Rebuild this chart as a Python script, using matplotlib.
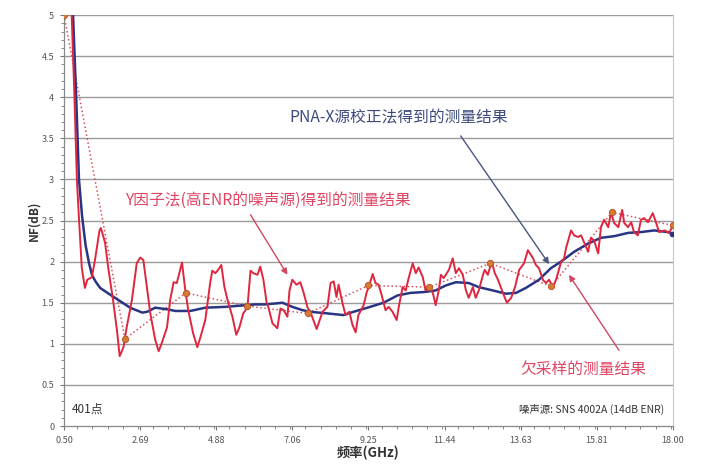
import numpy as np
import matplotlib
matplotlib.use("Agg")
import matplotlib.pyplot as plt
from matplotlib.ticker import MultipleLocator

plt.rcParams['font.family'] = ['Noto Sans CJK SC', 'DejaVu Sans']

# ---- data ----
# Y-factor result (high-ENR source), red
freq_red = [0.72, 0.80, 0.87, 0.92, 1.01, 1.10, 1.17, 1.30, 1.39, 1.52, 1.56, 1.68, 1.77, 1.91,
            2.02, 2.10, 2.21, 2.30, 2.45, 2.59, 2.69, 2.78, 2.88, 2.98, 3.12, 3.22, 3.31, 3.46,
            3.55, 3.65, 3.74, 3.82, 3.89, 3.98, 4.07, 4.21, 4.33, 4.42, 4.56, 4.70, 4.76, 4.85,
            4.93, 5.02, 5.11, 5.22, 5.34, 5.45, 5.54, 5.65, 5.77, 5.86, 5.94, 6.06, 6.14, 6.23,
            6.32, 6.37, 6.49, 6.63, 6.72, 6.81, 6.92, 6.98, 7.06, 7.18, 7.29, 7.38, 7.50, 7.58,
            7.76, 7.93, 8.07, 8.16, 8.25, 8.33, 8.39, 8.50, 8.59, 8.70, 8.79, 8.88, 8.96, 9.11,
            9.20, 9.25, 9.37, 9.45, 9.54, 9.63, 9.74, 9.83, 9.94, 10.06, 10.12, 10.23, 10.32,
            10.41, 10.52, 10.61, 10.69, 10.81, 10.89, 10.98, 11.10, 11.18, 11.27, 11.33, 11.41,
            11.56, 11.67, 11.76, 11.85, 11.96, 12.05, 12.13, 12.25, 12.33, 12.42, 12.54, 12.59,
            12.68, 12.79, 12.88, 12.97, 13.05, 13.14, 13.23, 13.35, 13.46, 13.58, 13.72, 13.83,
            13.98, 14.06, 14.15, 14.26, 14.35, 14.44, 14.55, 14.64, 14.78, 14.87, 14.93, 15.07,
            15.16, 15.27, 15.36, 15.44, 15.56, 15.64, 15.73, 15.85, 15.93, 16.02, 16.14, 16.22,
            16.31, 16.43, 16.54, 16.60, 16.71, 16.80, 16.88, 16.99, 17.08, 17.17, 17.28, 17.42,
            17.51, 17.60, 17.75, 17.89, 18.00]
nf_red = [5.00, 4.00, 3.00, 2.60, 1.93, 1.68, 1.78, 1.81, 2.02, 2.38, 2.41, 2.23, 1.93, 1.53,
          1.17, 0.85, 0.96, 1.20, 1.53, 1.98, 2.05, 2.02, 1.69, 1.37, 1.05, 0.91, 1.01, 1.20,
          1.53, 1.75, 1.74, 1.87, 1.99, 1.67, 1.41, 1.13, 0.96, 1.08, 1.29, 1.74, 1.89, 1.86,
          1.90, 1.96, 1.69, 1.50, 1.33, 1.11, 1.20, 1.37, 1.44, 1.89, 1.86, 1.84, 1.94, 1.78,
          1.51, 1.45, 1.25, 1.19, 1.43, 1.41, 1.33, 1.65, 1.78, 1.72, 1.75, 1.63, 1.44, 1.39,
          1.18, 1.39, 1.45, 1.74, 1.76, 1.57, 1.72, 1.50, 1.35, 1.39, 1.23, 1.14, 1.35, 1.47,
          1.63, 1.68, 1.85, 1.74, 1.72, 1.59, 1.41, 1.45, 1.39, 1.29, 1.45, 1.69, 1.65,
          1.81, 1.98, 1.86, 1.93, 1.81, 1.65, 1.69, 1.62, 1.47, 1.65, 1.84, 1.80,
          1.90, 2.04, 1.86, 1.92, 1.84, 1.65, 1.56, 1.69, 1.56, 1.65, 1.84, 1.90,
          1.84, 2.00, 1.86, 1.78, 1.69, 1.59, 1.50, 1.56, 1.69, 1.90, 1.98, 2.14,
          2.04, 1.96, 1.92, 1.78, 1.74, 1.78, 1.69, 1.78, 1.99, 2.04, 2.17, 2.38,
          2.32, 2.30, 2.32, 2.24, 2.12, 2.29, 2.26, 2.10, 2.42, 2.51, 2.42, 2.60,
          2.47, 2.42, 2.63, 2.47, 2.42, 2.48, 2.36, 2.32, 2.51, 2.53, 2.48, 2.59,
          2.48, 2.36, 2.38, 2.35, 2.44]

# PNA-X source-corrected result, navy
freq_blue = [0.76, 0.85, 0.93, 1.02, 1.12, 1.22, 1.31, 1.42, 1.54, 1.82, 2.11, 2.40, 2.75, 2.89,
             3.12, 3.47, 3.70, 4.13, 4.56, 5.14, 5.71, 6.00, 6.29, 6.78, 7.06, 7.35, 7.58, 8.07,
             8.53, 8.82, 9.22, 9.68, 10.09, 10.46, 10.84, 11.18, 11.47, 11.76, 12.13, 12.42,
             12.82, 13.20, 13.49, 13.77, 14.15, 14.49, 14.78, 15.16, 15.56, 15.93, 16.31, 16.71,
             17.08, 17.46, 17.86, 17.98]
nf_blue = [5.00, 4.00, 3.00, 2.55, 2.20, 1.98, 1.83, 1.75, 1.68, 1.60, 1.52, 1.44, 1.38, 1.39,
           1.44, 1.42, 1.40, 1.40, 1.44, 1.45, 1.47, 1.48, 1.48, 1.50, 1.45, 1.41, 1.39, 1.37,
           1.35, 1.39, 1.44, 1.50, 1.59, 1.62, 1.63, 1.65, 1.71, 1.75, 1.74, 1.69,
           1.65, 1.61, 1.62, 1.68, 1.78, 1.92, 2.00, 2.12, 2.22, 2.29, 2.31, 2.35,
           2.36, 2.38, 2.36, 2.34]

# undersampled result (11 points)
freq_samp = [0.50, 2.25, 4.00, 5.75, 7.50, 9.25, 11.00, 12.75, 14.50, 16.25, 18.00]
nf_samp = [5.00, 1.06, 1.62, 1.46, 1.37, 1.71, 1.69, 1.98, 1.70, 2.60, 2.44]

x_ticks = [0.50, 2.69, 4.88, 7.06, 9.25, 11.44, 13.63, 15.81, 18.00]
y_ticks = [0, 0.5, 1, 1.5, 2, 2.5, 3, 3.5, 4, 4.5, 5]

red = '#e0263f'
navy = '#283583'
txt_red = '#e04563'
txt_navy = '#3c4a7c'
grid_c = '#9a9a9a'

fig = plt.figure(figsize=(7.2, 4.68), dpi=100)
ax = fig.add_axes([0.0889, 0.0897, 0.8458, 0.878])

# grid lines
for yv in y_ticks[1:]:
    ax.axhline(yv, color=grid_c, lw=1.0, zorder=1)

ax.plot(freq_samp, nf_samp, ':', color='#d9505a', lw=1.1, zorder=2)
ax.plot(freq_blue, nf_blue, '-', color=navy, lw=1.8, zorder=3)
ax.plot(freq_red, nf_red, '-', color=red, lw=1.4, zorder=4)
ax.plot(freq_samp, nf_samp, 'o', ms=4.5, mfc='#d97a34', mec='#b8562a', mew=0.7, zorder=5)
ax.plot(freq_blue[-1:], nf_blue[-1:], 'o', ms=3, color=navy, zorder=5)

ax.set_xlim(0.5, 18.0)
ax.set_ylim(0, 5)
ax.set_xticks(x_ticks)
ax.set_xticklabels(['%.2f' % v for v in x_ticks])
ax.set_yticks(y_ticks)
ax.set_yticklabels(['%g' % v for v in y_ticks])
ax.xaxis.set_minor_locator(MultipleLocator(2.1875 / 5))
ax.yaxis.set_minor_locator(MultipleLocator(0.1))
ax.tick_params(axis='both', which='major', direction='out', length=3, width=0.8,
               color='#777777', labelsize=6.5, labelcolor='#555555', pad=4)
ax.tick_params(axis='both', which='minor', direction='out', length=2, width=0.6, color='#777777')

for s in ['left', 'bottom']:
    ax.spines[s].set_color('#888888')
    ax.spines[s].set_linewidth(0.9)
ax.spines['right'].set_color('#c8c8c8')
ax.spines['top'].set_visible(False)

ax.set_ylabel('NF(dB)', fontsize=8.5, fontweight='bold', color='#333333', labelpad=1)
ax.set_xlabel('频率(GHz)', fontsize=9.5, fontweight='bold', color='#333333', labelpad=1)

# annotations: labels and arrows
fs = 11.3
arrow_navy = dict(arrowstyle='-|>', color='#4a5580', lw=1.0, shrinkA=0, shrinkB=0, mutation_scale=9)
arrow_red = dict(arrowstyle='-|>', color='#d04762', lw=1.0, shrinkA=0, shrinkB=0, mutation_scale=9)

ax.text(10.12, 3.75, 'PNA-X源校正法得到的测量结果', fontsize=fs, color=txt_navy,
        ha='center', va='center')
ax.annotate('', xy=(14.44, 1.97), xytext=(11.90, 3.53), arrowprops=arrow_navy)

ax.text(6.37, 2.75, 'Y因子法(高ENR的噪声源)得到的测量结果', fontsize=fs, color=txt_red,
        ha='center', va='center')
ax.annotate('', xy=(6.92, 1.84), xytext=(5.86, 2.57), arrowprops=arrow_red)

ax.text(15.42, 0.69, '欠采样的测量结果', fontsize=fs, color=txt_red, ha='center', va='center')
ax.annotate('', xy=(15.01, 1.84), xytext=(16.45, 0.92), arrowprops=arrow_red)

ax.text(0.012, 0.04, '401点', transform=ax.transAxes, fontsize=8.5,
        color='#333333', ha='left', va='center')
ax.text(0.985, 0.04, '噪声源: SNS 4002A (14dB ENR)', transform=ax.transAxes, fontsize=7.5,
        color='#333333', ha='right', va='center')

fig.savefig('out.png', dpi=100)
